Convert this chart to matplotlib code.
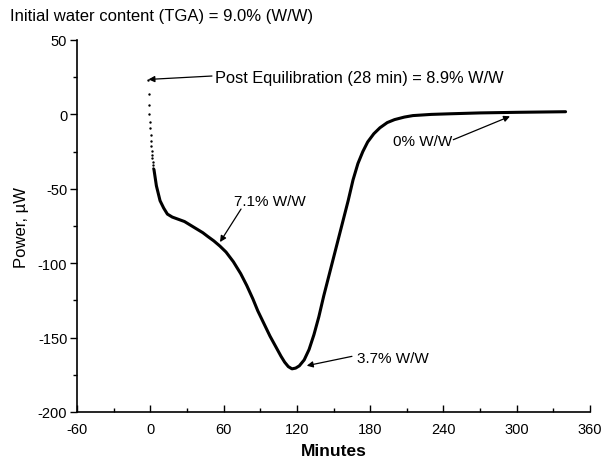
import matplotlib
matplotlib.use("Agg")
import matplotlib.pyplot as plt
from matplotlib.ticker import MultipleLocator

plt.rcParams['font.family'] = ['Liberation Sans', 'DejaVu Sans']
plt.rcParams['axes.unicode_minus'] = False

# Early (sparse, dotted) data points right after equilibration
dots_t = [-1.6, -1.3, -1.0, -0.7, -0.4, -0.1, 0.2, 0.5, 0.8, 1.1, 1.4, 1.7, 2.0, 2.3, 2.6]
dots_p = [23.3, 13.6, 6.3, 0.3, -4.9, -9.3, -13.8, -17.6, -21.0, -24.3, -27.0, -29.5, -32.0, -34.0, -36.0]

# Main curve (minutes, power in µW)
curve_t = [3, 5, 8, 11, 14, 18, 23, 28, 33, 38, 43, 47, 52, 57, 62, 68, 74, 79, 84, 88,
           93, 98, 103, 107, 110, 113, 116, 119, 122, 126, 130, 134, 138, 142, 147, 152,
           157, 162, 166, 170, 174, 178, 183, 188, 194, 200, 208, 215, 230, 245, 270,
           300, 320, 340]
curve_p = [-37, -48, -58, -63, -67, -69, -70.5, -72, -74.5, -77, -79.5, -82, -85, -88.5,
           -92.5, -99, -107, -115, -124, -132, -140.5, -149, -156.5, -162.5, -166.5,
           -169.5, -171, -170.5, -169, -165, -158, -148, -136, -122, -106, -90, -74,
           -58, -44, -33, -25, -18.5, -13, -9, -5.5, -3.5, -1.8, -0.8, 0, 0.4, 1.0,
           1.4, 1.6, 1.8]

xticks = [-60, 0, 60, 120, 180, 240, 300, 360]
yticks = [-200, -150, -100, -50, 0, 50]

fig = plt.figure(figsize=(6.01, 4.64), dpi=100)
ax = fig.add_axes([77/601, 1-413/464, (590-77)/601, (413-41)/464])

ax.plot(curve_t, curve_p, color='black', lw=2.2, solid_capstyle='round', solid_joinstyle='round')
ax.scatter(dots_t, dots_p, s=3, color='black', linewidths=0)

ax.set_xlim(-60, 360)
ax.set_ylim(-200, 50)
ax.set_xticks(xticks)
ax.set_yticks(yticks)
ax.xaxis.set_minor_locator(MultipleLocator(30))
ax.yaxis.set_minor_locator(MultipleLocator(25))
ax.tick_params(axis='x', which='major', direction='in', length=5, width=1, labelsize=10.5, pad=7)
ax.tick_params(axis='x', which='minor', direction='in', length=3, width=1)
ax.tick_params(axis='y', which='major', direction='out', length=5, width=1, labelsize=10.5, pad=2)
ax.tick_params(axis='y', which='minor', direction='out', length=3, width=1)
for s in ['top', 'right']:
    ax.spines[s].set_visible(False)
for s in ['left', 'bottom']:
    ax.spines[s].set_linewidth(1.2)

ax.set_xlabel('Minutes', fontsize=12.5, fontweight='bold', labelpad=5)
ax.set_ylabel('Power, µW', fontsize=12, labelpad=6)

fs = 11
ap = dict(arrowstyle='-|>', color='black', lw=0.9, mutation_scale=9, shrinkA=0, shrinkB=0)

ax.text(53.0, 25.1, 'Post Equilibration (28 min) = 8.9% W/W', fontsize=11.8, ha='left', va='center')
ax.annotate('', xy=(-1.5, 23.5), xytext=(50.5, 25.8), arrowprops=ap)

ax.text(98.0, -58.2, '7.1% W/W', fontsize=fs, ha='center', va='center')
ax.annotate('', xy=(57.1, -85.8), xytext=(74.3, -63.6), arrowprops=ap)

ax.text(169.2, -163.7, '3.7% W/W', fontsize=fs, ha='left', va='center')
ax.annotate('', xy=(128.1, -168.9), xytext=(165.1, -162.6), arrowprops=ap)

ax.text(247.0, -17.9, '0% W/W', fontsize=fs, ha='right', va='center')
ax.annotate('', xy=(294.5, -1.3), xytext=(248.1, -17.0), arrowprops=ap)

fig.text(10/601, 1-17/464, 'Initial water content (TGA) = 9.0% (W/W)', fontsize=12,
         ha='left', va='center')

fig.savefig('out.png', dpi=100)
